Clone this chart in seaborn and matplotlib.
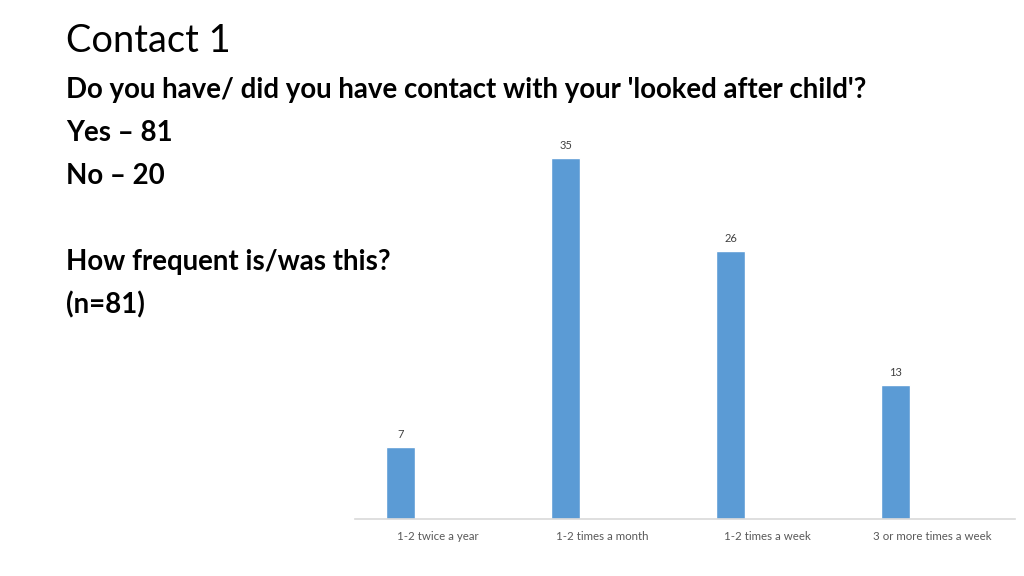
import matplotlib
matplotlib.use("Agg")
import matplotlib.pyplot as plt
import seaborn as sns
import pandas as pd

# Datos del gráfico
categories = ["1-2 twice a year", "1-2 times a month", "1-2 times a week", "3 or more times a week"]
counts = [7, 35, 26, 13]

title = "Contact 1"
question = "Do you have/ did you have contact with your 'looked after child'?"
answers = ["Yes \u2013 81", "No \u2013 20"]
sub_question = "How frequent is/was this?"
sample = "(n=81)"

BAR_COLOR = "#5B9BD5"
BAR_SHIFT = -0.224   # las barras van desplazadas a la izquierda de la etiqueta (como en Excel)

sns.set_style("white")
plt.rcParams['font.family'] = ['Lato', 'DejaVu Sans']

fig = plt.figure(figsize=(10.24, 5.76), dpi=100)
W, H = 1024, 576

# Eje del gráfico de barras
ax = fig.add_axes([355 / W, (H - 519) / H, 660 / W, (519 - 130) / H])
df = pd.DataFrame({"freq": categories, "n": counts})
sns.barplot(data=df, x="freq", y="n", color=BAR_COLOR, width=0.18, ax=ax,
            saturation=1)
for p in ax.patches:
    p.set_x(p.get_x() + BAR_SHIFT)
ax.set_ylim(0, 37.7)
ax.set_xlim(-0.5, 3.5)
ax.set_xlabel("")
ax.set_ylabel("")
ax.set_yticks([])
for side in ["top", "right", "left"]:
    ax.spines[side].set_visible(False)
ax.spines["bottom"].set_color("#D9D9D9")
ax.spines["bottom"].set_linewidth(1.2)
ax.tick_params(axis="x", length=0, labelsize=8.3, labelcolor="#595959", pad=9)

for i, v in enumerate(counts):
    ax.annotate(str(v), (i + BAR_SHIFT, v), xytext=(0, 5), textcoords="offset points",
                ha="center", va="bottom", fontsize=8, color="#404040")

# Textos de la diapositiva
def ftext(x, y, s, **kw):
    fig.text(x / W, (H - y) / H, s, va="baseline", ha="left", color="black", **kw)

ftext(66, 52, title, fontsize=27.4)
ftext(66, 98, question, fontsize=19.9, fontweight="bold")
ftext(66, 141, answers[0], fontsize=19.9, fontweight="bold")
ftext(66, 184, answers[1], fontsize=19.9, fontweight="bold")
ftext(66, 270, sub_question, fontsize=19.9, fontweight="bold")
ftext(66, 313, sample, fontsize=19.9, fontweight="bold")

fig.savefig("out.png", dpi=100)
